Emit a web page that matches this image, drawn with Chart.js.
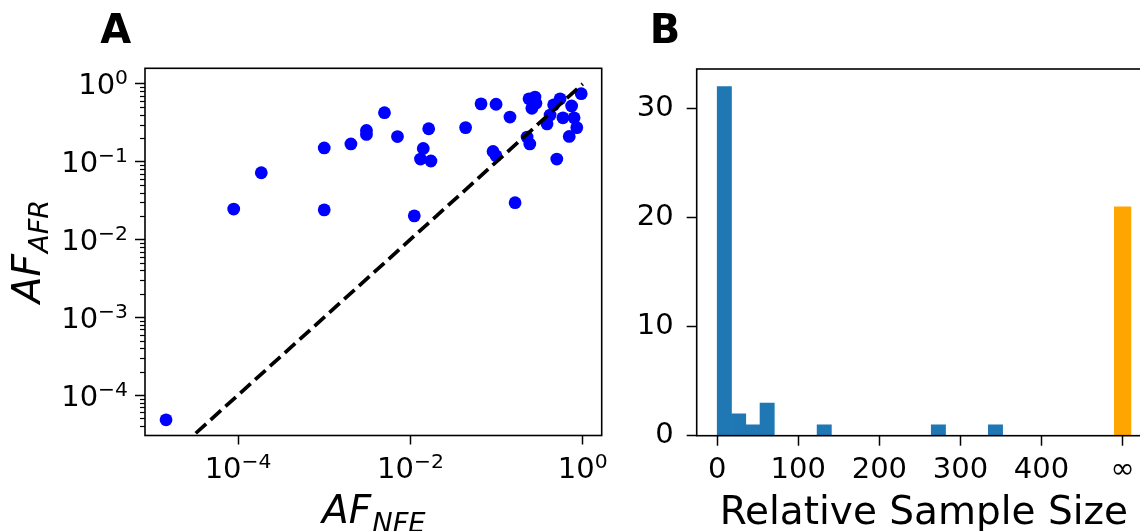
<!DOCTYPE html>
<html>
<head>
<meta charset="utf-8">
<script src="https://cdn.jsdelivr.net/npm/chart.js@4.4.1/dist/chart.umd.min.js"></script>
<style>
  html, body { margin: 0; padding: 0; background: #fff; overflow: hidden; }
  #wrap { position: relative; width: 1140px; height: 531px; overflow: hidden; }
  canvas { position: absolute; top: 0; }
  #panelA { left: 0; }
  #panelB { left: 620px; }
</style>
</head>
<body>
<div id="wrap">
  <canvas id="panelA" width="620" height="531"></canvas>
  <canvas id="panelB" width="540" height="531"></canvas>
</div>
<script>
// --- panel A: allele frequency NFE vs AFR ---
const afNFE = [1.46e-5, 8.9e-5, 1.86e-4, 1.0e-3, 1.0e-3, 2.04e-3, 3.09e-3, 3.09e-3, 5.0e-3, 7.08e-3,
               0.0111, 0.0141, 0.0131, 0.0163, 0.0173, 0.0437, 0.066, 0.0986, 0.091, 0.0986,
               0.143, 0.164, 0.226, 0.243, 0.238, 0.257, 0.279, 0.286, 0.385, 0.418,
               0.46, 0.50, 0.546, 0.589, 0.697, 0.743, 0.794, 0.853, 0.96];
const afAFR = [4.8e-5, 0.0246, 0.072, 0.15, 0.024, 0.169, 0.252, 0.224, 0.426, 0.21,
               0.0201, 0.148, 0.108, 0.265, 0.102, 0.274, 0.553, 0.547, 0.135, 0.119,
               0.374, 0.0297, 0.207, 0.169, 0.643, 0.485, 0.676, 0.564, 0.306, 0.397,
               0.537, 0.108, 0.643, 0.366, 0.211, 0.52, 0.366, 0.274, 0.748];
const diagonal = [1.46e-5, 1];
const ticksA_x = [1e-4, 1e-2, 1];
const ticksA_y = [1e-4, 1e-3, 1e-2, 1e-1, 1];

// --- panel B: histogram of relative sample size ---
const binCenters = [8.8, 26.4, 44, 61.6, 132, 272.8, 343.2];
const binCounts = [32, 2, 1, 3, 1, 1, 1];
const infPosition = 500;
const infCount = 21;
const ticksB_x = [0, 100, 200, 300, 400, 500];
const ticksB_y = [0, 10, 20, 30];

const FONT = 'DejaVu Sans';
const TICK_PX = 29;

// box around the plot area (matplotlib spines)
const frame = {
    id: 'frame',
    afterDraw(chart) {
        const { ctx, chartArea: a } = chart;
        ctx.save();
        ctx.strokeStyle = '#000';
        ctx.lineWidth = 1.6;
        ctx.strokeRect(a.left, a.top, a.right - a.left, a.bottom - a.top);
        ctx.restore();
    }
};

// minor ticks on the log y axis
const minorTicks = {
    id: 'minorTicks',
    afterDraw(chart) {
        const s = chart.scales.y;
        const ctx = chart.ctx;
        ctx.save();
        ctx.strokeStyle = '#000';
        ctx.lineWidth = 1.2;
        for (let k = -5; k <= 0; k++) {
            for (let m = 2; m <= 9; m++) {
                const v = m * Math.pow(10, k);
                if (v < s.min || v > s.max) continue;
                const py = Math.round(s.getPixelForValue(v)) + 0.5;
                ctx.beginPath();
                ctx.moveTo(s.right, py);
                ctx.lineTo(s.right - 5, py);
                ctx.stroke();
            }
        }
        ctx.restore();
    }
};

// 10^n labels with a raised exponent
function drawPow(ctx, v, x, base, align) {
    const e = Math.round(Math.log10(v));
    const exp = e < 0 ? '\u2212' + (-e) : String(e);
    ctx.font = TICK_PX + 'px ' + FONT;
    const w1 = ctx.measureText('10').width;
    ctx.font = (TICK_PX * 0.7) + 'px ' + FONT;
    const w2 = ctx.measureText(exp).width;
    const x0 = align === 'center' ? x - (w1 + w2) / 2 : x - (w1 + w2);
    ctx.textAlign = 'left';
    ctx.textBaseline = 'alphabetic';
    ctx.font = TICK_PX + 'px ' + FONT;
    ctx.fillText('10', x0, base);
    ctx.font = (TICK_PX * 0.7) + 'px ' + FONT;
    ctx.fillText(exp, x0 + w1, base - 10);
}

const logLabels = {
    id: 'logLabels',
    afterDraw(chart) {
        const ctx = chart.ctx;
        const sx = chart.scales.x, sy = chart.scales.y;
        ctx.save();
        ctx.fillStyle = '#000';
        sx.ticks.forEach(t => drawPow(ctx, t.value, sx.getPixelForValue(t.value), sx.top + 42.8, 'center'));
        sy.ticks.forEach(t => drawPow(ctx, t.value, sy.right - 17, sy.getPixelForValue(t.value) + 10.5, 'right'));
        ctx.restore();
    }
};

function mathLabel(ctx, main, sub, size, drop) {
    ctx.font = 'italic ' + size + 'px ' + FONT;
    const w1 = ctx.measureText(main).width;
    ctx.font = 'italic ' + (size * 0.7) + 'px ' + FONT;
    const w2 = ctx.measureText(sub).width;
    const x0 = -(w1 + w2) / 2;
    ctx.textAlign = 'left';
    ctx.textBaseline = 'alphabetic';
    ctx.font = 'italic ' + size + 'px ' + FONT;
    ctx.fillText(main, x0, 0);
    ctx.font = 'italic ' + (size * 0.7) + 'px ' + FONT;
    ctx.fillText(sub, x0 + w1 + 1, drop);
}

const textA = {
    id: 'textA',
    afterDraw(chart) {
        const { ctx, chartArea: a } = chart;
        ctx.save();
        ctx.fillStyle = '#000';
        ctx.font = 'bold 40px ' + FONT;
        ctx.textAlign = 'center';
        ctx.fillText('A', 115.7, 42.7);
        // x label
        ctx.save();
        ctx.translate((a.left + a.right) / 2, 523.3);
        mathLabel(ctx, 'AF', 'NFE', 39, 8.3);
        ctx.restore();
        // y label
        ctx.save();
        ctx.translate(40, (a.top + a.bottom) / 2);
        ctx.rotate(-Math.PI / 2);
        mathLabel(ctx, 'AF', 'AFR', 39, 8.3);
        ctx.restore();
        ctx.restore();
    }
};

const textB = {
    id: 'textB',
    afterDraw(chart) {
        const ctx = chart.ctx;
        ctx.save();
        ctx.fillStyle = '#000';
        ctx.font = 'bold 40px ' + FONT;
        ctx.textAlign = 'center';
        ctx.fillText('B', 45, 42.7);
        ctx.restore();
    }
};

const tickFont = { family: FONT, size: TICK_PX };
const tickMarks = { drawOnChartArea: false, drawTicks: true, offset: false, tickColor: '#000', tickWidth: 1.5 };

new Chart(document.getElementById('panelA'), {
    type: 'scatter',
    data: {
        datasets: [
            {
                type: 'line',
                data: diagonal.map(v => ({ x: v, y: v })),
                borderColor: '#000',
                borderWidth: 3.7,
                borderDash: [14, 6],
                pointRadius: 0,
                fill: false
            },
            {
                data: afNFE.map((v, i) => ({ x: v, y: afAFR[i] })),
                backgroundColor: '#0000ff',
                borderWidth: 0,
                pointRadius: 6.4
            }
        ]
    },
    options: {
        responsive: false,
        animation: false,
        events: [],
        devicePixelRatio: 1,
        layout: { padding: { left: 0, top: 68.3, right: 18.3, bottom: 0 } },
        plugins: { legend: { display: false }, tooltip: { enabled: false } },
        scales: {
            x: {
                type: 'logarithmic',
                min: Math.pow(10, -5.08),
                max: Math.pow(10, 0.22),
                afterBuildTicks: s => {
                    s.ticks = ticksA_x.map(v => ({ value: v }));
                    s.min = Math.pow(10, -5.08);
                    s.max = Math.pow(10, 0.22);
                },
                afterFit: s => { s.height = 95.5; },
                ticks: { callback: () => '', autoSkip: false, maxRotation: 0 },
                grid: Object.assign({ tickLength: 9 }, tickMarks),
                border: { display: false }
            },
            y: {
                type: 'logarithmic',
                min: Math.pow(10, -4.52),
                max: Math.pow(10, 0.2),
                afterBuildTicks: s => {
                    s.ticks = ticksA_y.map(v => ({ value: v }));
                    s.min = Math.pow(10, -4.52);
                    s.max = Math.pow(10, 0.2);
                },
                afterFit: s => { s.width = 145; },
                ticks: { callback: () => '', autoSkip: false },
                grid: Object.assign({ tickLength: 10 }, tickMarks),
                border: { display: false }
            }
        }
    },
    plugins: [frame, minorTicks, logLabels, textA]
});

new Chart(document.getElementById('panelB'), {
    type: 'bar',
    data: {
        datasets: [
            {
                data: binCenters.map((c, i) => ({ x: c, y: binCounts[i] })),
                backgroundColor: '#1f77b4',
                barPercentage: 1,
                categoryPercentage: 1,
                grouped: false
            },
            {
                data: [{ x: infPosition, y: infCount }],
                backgroundColor: '#ffa500',
                barPercentage: 1.21,
                categoryPercentage: 1,
                grouped: false
            }
        ]
    },
    options: {
        responsive: false,
        animation: false,
        events: [],
        devicePixelRatio: 1,
        layout: { padding: { left: 0, top: 69, right: 9, bottom: 0 } },
        plugins: { legend: { display: false }, tooltip: { enabled: false } },
        scales: {
            x: {
                type: 'linear',
                offset: false,
                min: -25.3,
                max: 535,
                afterBuildTicks: s => { s.ticks = ticksB_x.map(v => ({ value: v })); },
                afterFit: s => { s.height = 95.3; },
                ticks: { callback: v => (v === infPosition ? '\u221E' : String(v)), font: tickFont, color: '#000', padding: 7, maxRotation: 0, autoSkip: false },
                grid: Object.assign({ tickLength: 10 }, tickMarks),
                border: { display: false },
                title: { display: true, text: 'Relative Sample Size', color: '#000', font: { family: FONT, size: 39, lineHeight: 1 }, padding: { top: 0, bottom: -2 } }
            },
            y: {
                type: 'linear',
                min: 0,
                max: 33.6,
                afterBuildTicks: s => { s.ticks = ticksB_y.map(v => ({ value: v })); },
                afterFit: s => { s.width = 76.7; },
                ticks: { font: tickFont, color: '#000', padding: 13, autoSkip: false },
                grid: Object.assign({ tickLength: 10 }, tickMarks),
                border: { display: false }
            }
        }
    },
    plugins: [frame, textB]
});
</script>
</body>
</html>
